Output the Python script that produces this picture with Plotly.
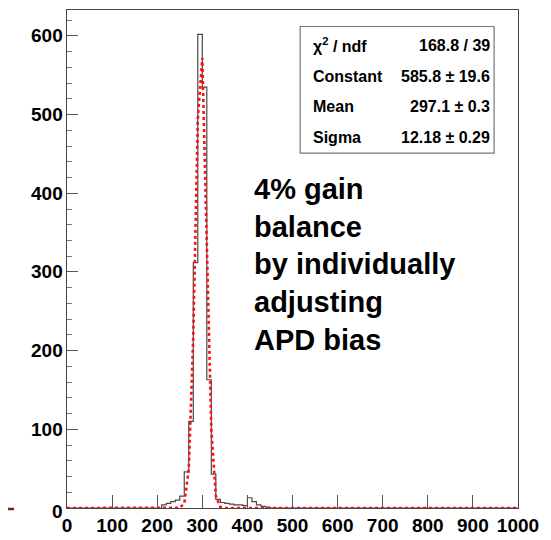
import plotly.graph_objects as go

# ---- data ----
bin_start = 0
bin_width = 10
counts = ([0] * 21
          + [4, 6, 8, 10, 15, 46, 110, 312, 602, 535, 163, 43, 11, 7, 6, 5, 4, 4, 3, 13, 8, 4, 2, 1]
          + [0] * 55)

fit_x = [0, 240, 250, 260, 270, 280, 290, 300, 310, 320, 330, 340, 350, 1000]
fit_y = [0, 0, 0.3, 5.7, 49, 219, 494, 572, 334, 100, 15, 1.2, 0, 0]

x_ticks = [0, 100, 200, 300, 400, 500, 600, 700, 800, 900, 1000]
y_ticks = [0, 100, 200, 300, 400, 500, 600]
y_tick_labels = ["0", "100", "200", "300", "400", "500", "600"]

stats_labels = ["χ<sup>2</sup> / ndf", "Constant", "Mean", "Sigma"]
stats_values = ["168.8 / 39", "585.8 ± 19.6", "297.1 ± 0.3", "12.18 ± 0.29"]
stats_rows_y = [588, 549, 510, 471]

note_text = "4% gain<br>balance<br>by individually<br>adjusting<br>APD bias"

# ---- figure ----
edges = [bin_start + i * bin_width for i in range(len(counts) + 1)]
hist_y = counts + [counts[-1]]

FONT = "Liberation Sans, Arial, Helvetica, sans-serif"

fig = go.Figure()
fig.add_trace(go.Scatter(x=edges, y=hist_y, mode="lines", line_shape="hv",
                         line=dict(color="#4a4a4a", width=1.2), hoverinfo="skip",
                         showlegend=False))
fig.add_trace(go.Scatter(x=fit_x, y=fit_y, mode="lines",
                         line=dict(color="#ff1010", width=2.6, dash="dot"),
                         hoverinfo="skip", showlegend=False))

fig.update_layout(
    width=543, height=532,
    margin=dict(l=59, r=33, t=2, b=32),
    paper_bgcolor="white", plot_bgcolor="white",
    font=dict(family=FONT, color="black"),
    showlegend=False,
)
fig.update_xaxes(range=[0, 1000], tickvals=x_ticks, ticks="inside", ticklen=13,
                 tickcolor="#555555", tickwidth=1, showgrid=False, zeroline=False,
                 showline=True, linecolor="#444444", linewidth=1, mirror=True,
                 tickfont=dict(size=19, family=FONT, weight="bold", color="black"),
                 ticklabelstandoff=0, automargin=False)
fig.update_yaxes(range=[0, 633], tickvals=y_ticks, ticks="inside", ticklen=11,
                 tickcolor="#555555", tickwidth=1, showgrid=False, zeroline=False,
                 showline=True, linecolor="#444444", linewidth=1, mirror=True,
                 showticklabels=False,
                 minor=dict(dtick=20, ticks="inside", ticklen=5, tickcolor="#777777"),
                 automargin=False)

# y tick labels placed close to the axis (as in the reference)
for v, lab in zip(y_ticks, y_tick_labels):
    fig.add_annotation(x=-0.004, y=v, xref="paper", yref="y", text=lab, showarrow=False,
                       xanchor="right", yanchor="middle", yshift=(-3 if v == 0 else 0),
                       font=dict(size=19, family=FONT, weight="bold", color="black"))

# stats box
fig.add_shape(type="rect", xref="x", yref="y", x0=517, x1=947, y0=451, y1=612,
              line=dict(color="#777777", width=1.2), fillcolor="white", layer="above")
for lab, val, yy in zip(stats_labels, stats_values, stats_rows_y):
    fig.add_annotation(x=541, y=yy, xref="x", yref="y", text=lab, showarrow=False,
                       xanchor="left", yanchor="middle",
                       font=dict(size=16, family=FONT, weight="bold", color="black"))
    fig.add_annotation(x=943, y=yy, xref="x", yref="y", text=val, showarrow=False,
                       xanchor="right", yanchor="middle",
                       font=dict(size=16, family=FONT, weight="bold", color="black"))

# big note
fig.add_annotation(x=411, y=309, xref="x", yref="y", text=note_text, showarrow=False,
                   xanchor="left", yanchor="middle", align="left",
                   font=dict(size=29, family=FONT, weight="bold", color="black"))

# page decorations
fig.add_shape(type="line", xref="paper", yref="paper", x0=1.0643, x1=1.0643,
              y0=-0.07, y1=1.01, line=dict(color="#999999", width=1))
fig.add_shape(type="line", xref="paper", yref="paper", x0=-0.1308, x1=-0.1175,
              y0=-0.002, y1=-0.002, line=dict(color="#8b1a1a", width=2.5))

fig.write_html("out.html")
